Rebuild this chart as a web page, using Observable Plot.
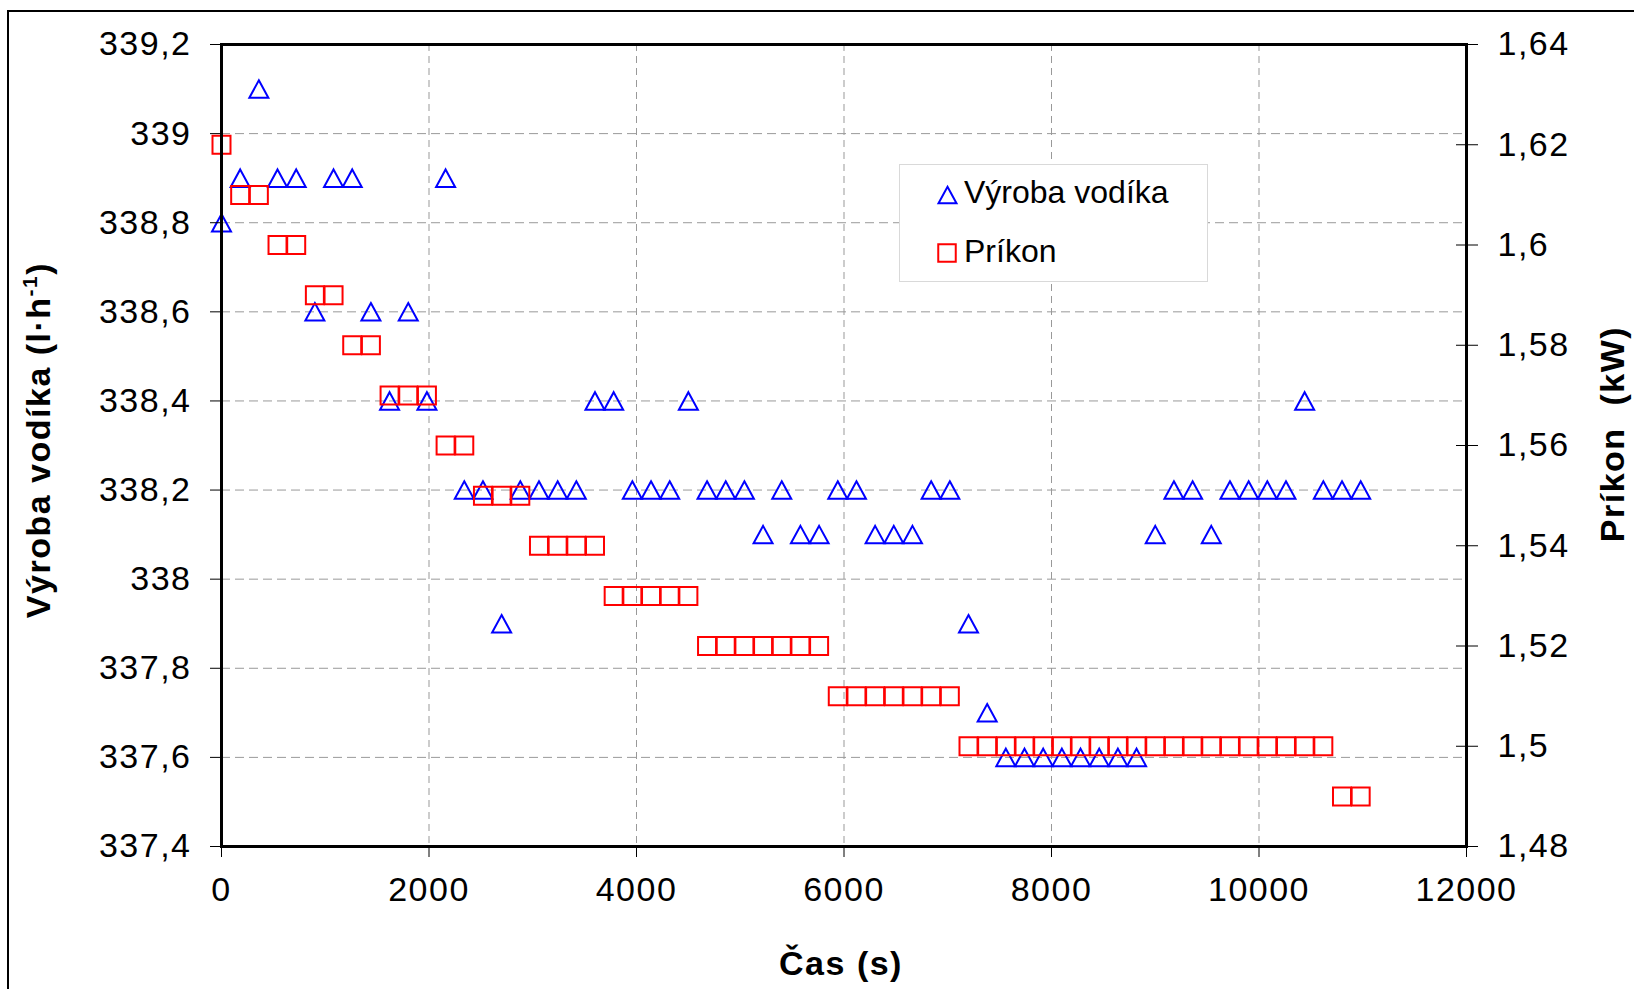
<!DOCTYPE html>
<html>
<head>
<meta charset="utf-8">
<script src="https://cdn.jsdelivr.net/npm/d3@7"></script>
<script src="https://cdn.jsdelivr.net/npm/@observablehq/plot@0.6"></script>
<style>
html, body { margin: 0; padding: 0; background: #fff; overflow: hidden; }
#wrap { position: relative; width: 1634px; height: 989px; overflow: hidden; font-family: 'Liberation Sans', Arial, sans-serif; }
#border { position: absolute; left: 7px; top: 10px; width: 3000px; height: 3000px; border-left: 2px solid #000; border-top: 2px solid #000; pointer-events: none; }
#legend { position: absolute; left: 899px; top: 164px; width: 309px; height: 118px; box-sizing: border-box; border: 1px solid #d9d9d9; background: #fff; }
#legend svg { display: block; }
</style>
</head>
<body>
<div id="wrap">
  <div id="chart"></div>
  <div id="border"></div>
  <div id="legend"></div>
</div>
<script>
// ---- data ----
const cas = [0, 180, 360, 540, 720, 900, 1080, 1260, 1440, 1620,
  1800, 1980, 2160, 2340, 2520, 2700, 2880, 3060, 3240, 3420,
  3600, 3780, 3960, 4140, 4320, 4500, 4680, 4860, 5040, 5220,
  5400, 5580, 5760, 5940, 6120, 6300, 6480, 6660, 6840, 7020,
  7200, 7380, 7560, 7740, 7920, 8100, 8280, 8460, 8640, 8820,
  9000, 9180, 9360, 9540, 9720, 9900, 10080, 10260, 10440, 10620,
  10800, 10980];

const vyrobaVodika = [338.8, 338.9, 339.1, 338.9, 338.9, 338.6, 338.9, 338.9, 338.6, 338.4,
  338.6, 338.4, 338.9, 338.2, 338.2, 337.9, 338.2, 338.2, 338.2, 338.2,
  338.4, 338.4, 338.2, 338.2, 338.2, 338.4, 338.2, 338.2, 338.2, 338.1,
  338.2, 338.1, 338.1, 338.2, 338.2, 338.1, 338.1, 338.1, 338.2, 338.2,
  337.9, 337.7, 337.6, 337.6, 337.6, 337.6, 337.6, 337.6, 337.6, 337.6,
  338.1, 338.2, 338.2, 338.1, 338.2, 338.2, 338.2, 338.2, 338.4, 338.2,
  338.2, 338.2];

const prikon = [1.62, 1.61, 1.61, 1.60, 1.60, 1.59, 1.59, 1.58, 1.58, 1.57,
  1.57, 1.57, 1.56, 1.56, 1.55, 1.55, 1.55, 1.54, 1.54, 1.54,
  1.54, 1.53, 1.53, 1.53, 1.53, 1.53, 1.52, 1.52, 1.52, 1.52,
  1.52, 1.52, 1.52, 1.51, 1.51, 1.51, 1.51, 1.51, 1.51, 1.51,
  1.50, 1.50, 1.50, 1.50, 1.50, 1.50, 1.50, 1.50, 1.50, 1.50,
  1.50, 1.50, 1.50, 1.50, 1.50, 1.50, 1.50, 1.50, 1.50, 1.50,
  1.49, 1.49];

const xTicks = [0, 2000, 4000, 6000, 8000, 10000, 12000];
const leftTicks = [337.4, 337.6, 337.8, 338, 338.2, 338.4, 338.6, 338.8, 339, 339.2];
const rightTicks = [1.48, 1.50, 1.52, 1.54, 1.56, 1.58, 1.60, 1.62, 1.64];

const seriesNames = ["Výroba vodíka", "Príkon"];
const xTitle = "Čas (s)";
const rightTitle = "Príkon  (kW)";

// ---- dual axis mapping ----
const leftDomain = [leftTicks[0], leftTicks[leftTicks.length - 1]];
const rightDomain = [rightTicks[0], rightTicks[rightTicks.length - 1]];
const k = (leftDomain[1] - leftDomain[0]) / (rightDomain[1] - rightDomain[0]);
const toLeft = p => leftDomain[0] + (p - rightDomain[0]) * k;
const fromLeft = y => rightDomain[0] + (y - leftDomain[0]) / k;
const fmt = d => String(+(+d).toFixed(2)).replace(".", ",");

const rows = cas.map((t, i) => ({t, v: vyrobaVodika[i], p: prikon[i], pl: toLeft(prikon[i])}));

// ---- marker shapes ----
const triangleSym = {draw(ctx, size) {
  const w = Math.sqrt(size), h = w * 0.92;
  ctx.moveTo(0, -h / 2); ctx.lineTo(w / 2, h / 2); ctx.lineTo(-w / 2, h / 2); ctx.closePath();
}};
const squareSym = {draw(ctx, size) {
  const s = Math.sqrt(size);
  ctx.moveTo(-s / 2, -s / 2); ctx.lineTo(s / 2, -s / 2); ctx.lineTo(s / 2, s / 2); ctx.lineTo(-s / 2, s / 2); ctx.closePath();
}};
const rFor = side => side / Math.sqrt(Math.PI);

const plot = Plot.plot({
  width: 1634,
  height: 989,
  marginLeft: 221,
  marginRight: 168,
  marginTop: 44,
  marginBottom: 143,
  x: {domain: [xTicks[0], xTicks[xTicks.length - 1]]},
  y: {domain: leftDomain},
  style: {fontFamily: "'Liberation Sans', Arial, sans-serif", fontSize: "34px", letterSpacing: "1.5px", color: "#000", background: "transparent", overflow: "visible"},
  marks: [
    Plot.gridX(xTicks, {stroke: "#999", strokeOpacity: 1, strokeWidth: 1, strokeDasharray: "7,5"}),
    Plot.gridY(leftTicks, {stroke: "#999", strokeOpacity: 1, strokeWidth: 1, strokeDasharray: "9,5"}),
    Plot.dot(rows, {x: "t", y: "v", symbol: triangleSym, r: rFor(19), stroke: "#0000ff", strokeWidth: 2, fill: "none"}),
    Plot.dot(rows, {x: "t", y: "pl", symbol: squareSym, r: rFor(18), stroke: "#ff0000", strokeWidth: 2, fill: "none"}),
    Plot.frame({stroke: "#000", strokeWidth: 3}),
    Plot.axisY(leftTicks, {anchor: "left", tickSize: 11, tickPadding: 19, tickFormat: fmt, label: null, color: "#000"}),
    Plot.axisY(rightTicks.map(toLeft), {anchor: "right", tickSize: 11, tickPadding: 20, tickFormat: d => fmt(fromLeft(d)), label: null, color: "#000"}),
    Plot.axisY(rightTicks.map(toLeft), {anchor: "right", tickSize: 11, insetRight: 11, fill: "none", label: null, color: "#000"}),
    Plot.axisX(xTicks, {anchor: "bottom", tickSize: 11, tickPadding: 19, tickFormat: d => String(d), label: null, color: "#000"})
  ]
});
document.getElementById("chart").appendChild(plot);

// ---- axis titles ----
const svg = d3.select(plot);
const lt = svg.append("text")
  .attr("transform", "translate(50,440) rotate(-90)")
  .attr("text-anchor", "middle")
  .attr("font-weight", "bold")
  .attr("font-size", 34)
  .attr("fill", "#000");
lt.append("tspan").text("Výroba vodíka (l·h");
lt.append("tspan").attr("dy", -13).attr("font-size", 21).text("-1");
lt.append("tspan").attr("dy", 13).text(")");

svg.append("text")
  .attr("transform", "translate(1624,434) rotate(-90)")
  .attr("text-anchor", "middle")
  .attr("font-weight", "bold")
  .attr("font-size", 34)
  .attr("fill", "#000")
  .style("white-space", "pre")
  .text(rightTitle);

svg.append("text")
  .attr("x", 841)
  .attr("y", 975)
  .attr("text-anchor", "middle")
  .attr("font-weight", "bold")
  .attr("font-size", 34)
  .attr("fill", "#000")
  .text(xTitle);

// ---- legend ----
const lg = d3.select("#legend").append("svg").attr("width", 307).attr("height", 116)
  .style("font-family", "'Liberation Sans', Arial, sans-serif");
const triPath = d3.path(); triangleSym.draw(triPath, 18 * 18);
const sqPath = d3.path(); squareSym.draw(sqPath, 17.5 * 17.5);
lg.append("path").attr("d", triPath.toString()).attr("transform", "translate(47.5,30)")
  .attr("fill", "none").attr("stroke", "#0000ff").attr("stroke-width", 2);
lg.append("text").attr("x", 64).attr("y", 38).attr("font-size", 32).attr("fill", "#000").text(seriesNames[0]);
lg.append("path").attr("d", sqPath.toString()).attr("transform", "translate(47,88)")
  .attr("fill", "none").attr("stroke", "#ff0000").attr("stroke-width", 2);
lg.append("text").attr("x", 64).attr("y", 97).attr("font-size", 32).attr("fill", "#000").text(seriesNames[1]);
</script>
</body>
</html>
